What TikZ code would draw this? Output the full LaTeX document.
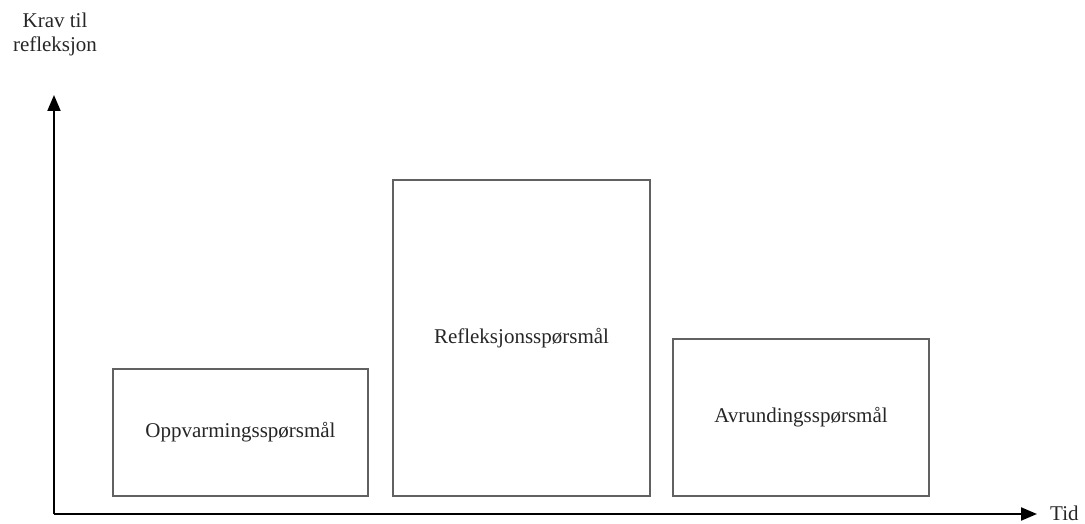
\documentclass[tikz,border=0pt]{standalone}
\usepackage{fontspec}
\setmainfont{Liberation Serif}
\usetikzlibrary{arrows.meta}
\begin{document}
\begin{tikzpicture}[x=1pt,y=1pt,
  box/.style={draw=black!62, line width=1.3pt, rectangle, inner sep=0pt, font=\fontsize{21}{24}\selectfont, text=black!85},
  axis/.style={draw=black, line width=2pt, -{Triangle[length=16pt,width=13pt]}},
  lbl/.style={font=\fontsize{21}{24}\selectfont, text=black!85, inner sep=0pt}]
\useasboundingbox (0,0) rectangle (1085,523);
\coordinate (origin) at (54,9);
\coordinate (ytop) at (54,428);
\coordinate (xend) at (1037,9);
\draw[axis] (origin) -- (ytop);
\draw[axis] (origin) -- (xend);
\node[lbl, align=center] (ylab) at (55,489) {Krav til\\refleksjon};
\node[lbl, anchor=west] (xlab) at (1050,10) {Tid};
\node[box, minimum width=255pt, minimum height=127pt] (b1) at (240.5,90.5) {Oppvarmingsspørsmål};
\node[box, minimum width=257pt, minimum height=316pt] (b2) at (521.5,185) {Refleksjonsspørsmål};
\node[box, minimum width=256pt, minimum height=157pt] (b3) at (801,105.5) {Avrundingsspørsmål};
\end{tikzpicture}
\end{document}
